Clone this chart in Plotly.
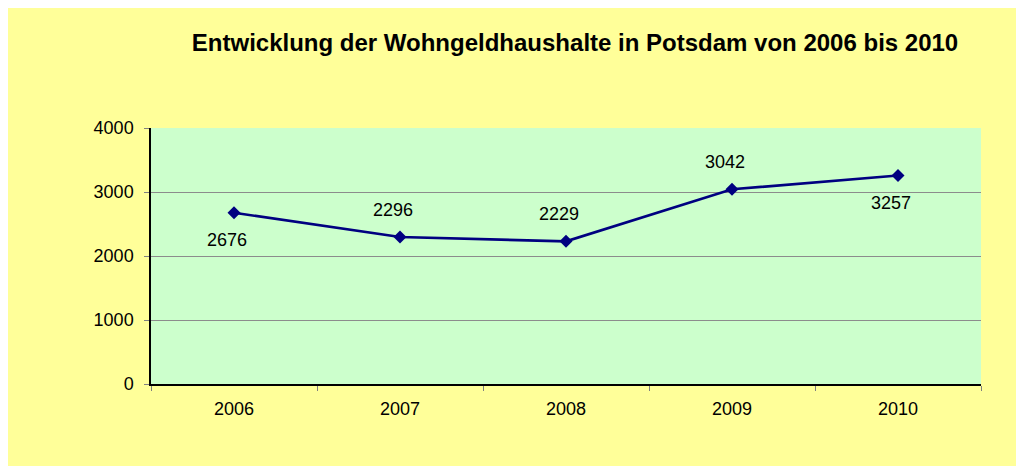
import plotly.graph_objects as go

years = ["2006", "2007", "2008", "2009", "2010"]
households = [2676, 2296, 2229, 3042, 3257]
label_side = [-1, 1, 1, 1, -1]  # -1 below point, 1 above point
y_ticks = [0, 1000, 2000, 3000, 4000]
title_text = "Entwicklung der Wohngeldhaushalte in Potsdam von 2006 bis 2010"

FONT = "Liberation Sans, Arial, sans-serif"

fig = go.Figure()
fig.add_trace(go.Scatter(
    x=years, y=households, mode="lines+markers",
    line=dict(color="#000080", width=2.6),
    marker=dict(symbol="diamond", size=10, color="#000080"),
    hoverinfo="x+y", showlegend=False,
))

for i, (y, s) in enumerate(zip(households, label_side)):
    fig.add_annotation(x=i, y=y, xref="x", yref="y", text=str(y), showarrow=False,
                       xshift=-7, yshift=27 * s,
                       font=dict(family=FONT, size=18, color="#000000"))

W, H = 1024, 466
OFF = 8  # page body margin
L, T = 151 - OFF, 128 - OFF
pw, ph = 830, 256
R, B = W - L - pw, H - T - ph

fig.update_layout(
    width=W, height=H,
    margin=dict(l=L, r=R, t=T, b=B, pad=0),
    paper_bgcolor="#FFFF99", plot_bgcolor="#CCFFCC",
    font=dict(family=FONT, size=18, color="#000000"),
    title=dict(text="<b>" + title_text + "</b>", x=(575 - OFF) / W, xanchor="center",
               y=1 - (43 - OFF) / H, yanchor="middle", xref="container",
               yref="container", font=dict(family=FONT, size=24, color="#000000")),
    xaxis=dict(type="category", tickson="boundaries", ticks="outside", ticklen=5,
               tickcolor="#808080", showline=True, linecolor="#000000", linewidth=1.5,
               showgrid=False, range=[-0.5, 4.5], ticklabelstandoff=8,
               tickfont=dict(family=FONT, size=18)),
    yaxis=dict(range=[0, 4000], tickvals=y_ticks, ticks="outside", ticklen=5,
               tickcolor="#808080", showline=True, linecolor="#000000", linewidth=1.5,
               showgrid=True, gridcolor="#8C8C8C", gridwidth=1, zeroline=False,
               ticklabelstandoff=7, tickfont=dict(family=FONT, size=18)),
)

fig.write_html("out.html")
